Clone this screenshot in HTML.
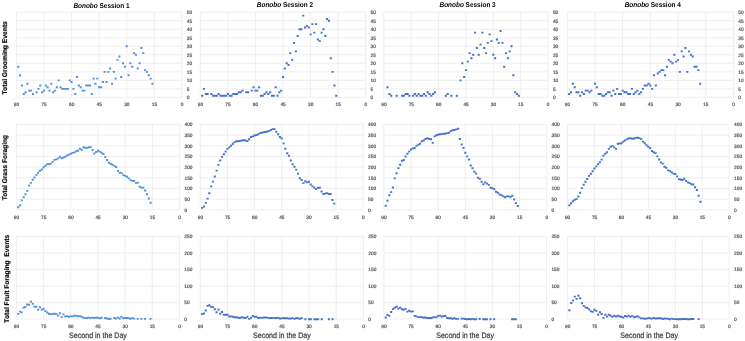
<!DOCTYPE html>
<html><head><meta charset="utf-8"><style>
html,body{margin:0;padding:0;background:#fff;}
svg{display:block;font-family:"Liberation Sans", sans-serif;will-change:transform;text-rendering:geometricPrecision;}
</style></head><body>
<svg width="745" height="341" viewBox="0 0 745 341">
<rect width="745" height="341" fill="#fff"/>
<g stroke="#ededed" stroke-width="0.9"><line x1="16.4" y1="97.4" x2="181.9" y2="97.4"/><line x1="16.4" y1="88.88" x2="181.9" y2="88.88"/><line x1="16.4" y1="80.36" x2="181.9" y2="80.36"/><line x1="16.4" y1="71.84" x2="181.9" y2="71.84"/><line x1="16.4" y1="63.32" x2="181.9" y2="63.32"/><line x1="16.4" y1="54.8" x2="181.9" y2="54.8"/><line x1="16.4" y1="46.28" x2="181.9" y2="46.28"/><line x1="16.4" y1="37.76" x2="181.9" y2="37.76"/><line x1="16.4" y1="29.24" x2="181.9" y2="29.24"/><line x1="16.4" y1="20.72" x2="181.9" y2="20.72"/><line x1="16.4" y1="12.2" x2="181.9" y2="12.2"/><line x1="16.4" y1="12.2" x2="16.4" y2="97.4"/><line x1="43.98" y1="12.2" x2="43.98" y2="97.4"/><line x1="71.57" y1="12.2" x2="71.57" y2="97.4"/><line x1="99.15" y1="12.2" x2="99.15" y2="97.4"/><line x1="126.73" y1="12.2" x2="126.73" y2="97.4"/><line x1="154.32" y1="12.2" x2="154.32" y2="97.4"/><line x1="181.9" y1="12.2" x2="181.9" y2="97.4"/></g>
<g font-size="4.8" fill="#505050" stroke="#505050" stroke-width="0.18"><text x="186.8" y="99.2">0</text><text x="186.8" y="90.68">5</text><text x="186.8" y="82.16">10</text><text x="186.8" y="73.64">15</text><text x="186.8" y="65.12">20</text><text x="186.8" y="56.6">25</text><text x="186.8" y="48.08">30</text><text x="186.8" y="39.56">35</text><text x="186.8" y="31.04">40</text><text x="186.8" y="22.52">45</text><text x="186.8" y="14">50</text><text x="16.5" y="106.3" text-anchor="middle">90</text><text x="44.08" y="106.3" text-anchor="middle">75</text><text x="71.67" y="106.3" text-anchor="middle">60</text><text x="99.25" y="106.3" text-anchor="middle">45</text><text x="126.83" y="106.3" text-anchor="middle">30</text><text x="154.42" y="106.3" text-anchor="middle">15</text><text x="182" y="106.3" text-anchor="middle">0</text></g>
<path fill="#5394d8" d="M17.19 65.78h2.1v1.9h-2.1zM19.03 74.3h2.1v1.9h-2.1zM20.87 84.52h2.1v1.9h-2.1zM22.71 93.04h2.1v1.9h-2.1zM24.54 91.34h2.1v1.9h-2.1zM26.38 82.82h2.1v1.9h-2.1zM28.22 89.63h2.1v1.9h-2.1zM30.06 89.63h2.1v1.9h-2.1zM31.9 93.04h2.1v1.9h-2.1zM35.58 91.34h2.1v1.9h-2.1zM37.42 87.93h2.1v1.9h-2.1zM39.26 84.52h2.1v1.9h-2.1zM41.09 91.34h2.1v1.9h-2.1zM42.93 89.63h2.1v1.9h-2.1zM44.77 84.52h2.1v1.9h-2.1zM46.61 86.23h2.1v1.9h-2.1zM48.45 89.63h2.1v1.9h-2.1zM50.29 82.82h2.1v1.9h-2.1zM52.13 91.34h2.1v1.9h-2.1zM53.97 89.63h2.1v1.9h-2.1zM55.81 86.23h2.1v1.9h-2.1zM57.64 79.41h2.1v1.9h-2.1zM59.48 86.23h2.1v1.9h-2.1zM61.32 87.93h2.1v1.9h-2.1zM63.16 87.93h2.1v1.9h-2.1zM65 87.93h2.1v1.9h-2.1zM66.84 87.93h2.1v1.9h-2.1zM68.68 79.41h2.1v1.9h-2.1zM70.52 81.11h2.1v1.9h-2.1zM72.36 87.93h2.1v1.9h-2.1zM74.19 93.04h2.1v1.9h-2.1zM76.03 76h2.1v1.9h-2.1zM77.87 84.52h2.1v1.9h-2.1zM79.71 86.23h2.1v1.9h-2.1zM81.55 89.63h2.1v1.9h-2.1zM83.39 89.63h2.1v1.9h-2.1zM85.23 84.52h2.1v1.9h-2.1zM87.07 84.52h2.1v1.9h-2.1zM88.91 84.52h2.1v1.9h-2.1zM90.74 93.04h2.1v1.9h-2.1zM92.58 77.71h2.1v1.9h-2.1zM94.42 82.82h2.1v1.9h-2.1zM96.26 77.71h2.1v1.9h-2.1zM98.1 86.23h2.1v1.9h-2.1zM99.94 86.23h2.1v1.9h-2.1zM101.78 81.11h2.1v1.9h-2.1zM103.62 70.89h2.1v1.9h-2.1zM105.46 81.11h2.1v1.9h-2.1zM107.29 70.89h2.1v1.9h-2.1zM109.13 67.48h2.1v1.9h-2.1zM110.97 82.82h2.1v1.9h-2.1zM112.81 70.89h2.1v1.9h-2.1zM114.65 77.71h2.1v1.9h-2.1zM116.49 58.96h2.1v1.9h-2.1zM118.33 55.55h2.1v1.9h-2.1zM120.17 76h2.1v1.9h-2.1zM122.01 62.37h2.1v1.9h-2.1zM123.84 65.78h2.1v1.9h-2.1zM125.68 45.33h2.1v1.9h-2.1zM127.52 74.3h2.1v1.9h-2.1zM129.36 62.37h2.1v1.9h-2.1zM131.2 65.78h2.1v1.9h-2.1zM133.04 52.15h2.1v1.9h-2.1zM134.88 53.85h2.1v1.9h-2.1zM136.72 67.48h2.1v1.9h-2.1zM138.56 62.37h2.1v1.9h-2.1zM140.39 47.03h2.1v1.9h-2.1zM142.23 52.15h2.1v1.9h-2.1zM144.07 69.19h2.1v1.9h-2.1zM145.91 70.89h2.1v1.9h-2.1zM147.75 74.3h2.1v1.9h-2.1zM149.59 77.71h2.1v1.9h-2.1zM151.43 82.82h2.1v1.9h-2.1z"/>
<g stroke="#ededed" stroke-width="0.9"><line x1="200.3" y1="97.4" x2="365.7" y2="97.4"/><line x1="200.3" y1="88.88" x2="365.7" y2="88.88"/><line x1="200.3" y1="80.36" x2="365.7" y2="80.36"/><line x1="200.3" y1="71.84" x2="365.7" y2="71.84"/><line x1="200.3" y1="63.32" x2="365.7" y2="63.32"/><line x1="200.3" y1="54.8" x2="365.7" y2="54.8"/><line x1="200.3" y1="46.28" x2="365.7" y2="46.28"/><line x1="200.3" y1="37.76" x2="365.7" y2="37.76"/><line x1="200.3" y1="29.24" x2="365.7" y2="29.24"/><line x1="200.3" y1="20.72" x2="365.7" y2="20.72"/><line x1="200.3" y1="12.2" x2="365.7" y2="12.2"/><line x1="200.3" y1="12.2" x2="200.3" y2="97.4"/><line x1="227.87" y1="12.2" x2="227.87" y2="97.4"/><line x1="255.43" y1="12.2" x2="255.43" y2="97.4"/><line x1="283" y1="12.2" x2="283" y2="97.4"/><line x1="310.57" y1="12.2" x2="310.57" y2="97.4"/><line x1="338.13" y1="12.2" x2="338.13" y2="97.4"/><line x1="365.7" y1="12.2" x2="365.7" y2="97.4"/></g>
<g font-size="4.8" fill="#505050" stroke="#505050" stroke-width="0.18"><text x="370.6" y="99.2">0</text><text x="370.6" y="90.68">5</text><text x="370.6" y="82.16">10</text><text x="370.6" y="73.64">15</text><text x="370.6" y="65.12">20</text><text x="370.6" y="56.6">25</text><text x="370.6" y="48.08">30</text><text x="370.6" y="39.56">35</text><text x="370.6" y="31.04">40</text><text x="370.6" y="22.52">45</text><text x="370.6" y="14">50</text><text x="200.4" y="106.3" text-anchor="middle">90</text><text x="227.97" y="106.3" text-anchor="middle">75</text><text x="255.53" y="106.3" text-anchor="middle">60</text><text x="283.1" y="106.3" text-anchor="middle">45</text><text x="310.67" y="106.3" text-anchor="middle">30</text><text x="338.23" y="106.3" text-anchor="middle">15</text><text x="365.8" y="106.3" text-anchor="middle">0</text></g>
<path fill="#4873cb" d="M201.09 94.75h2.1v1.9h-2.1zM202.93 87.93h2.1v1.9h-2.1zM204.76 93.04h2.1v1.9h-2.1zM206.6 93.04h2.1v1.9h-2.1zM210.28 93.04h2.1v1.9h-2.1zM212.11 94.75h2.1v1.9h-2.1zM213.95 94.75h2.1v1.9h-2.1zM215.79 94.75h2.1v1.9h-2.1zM217.63 93.04h2.1v1.9h-2.1zM219.47 94.75h2.1v1.9h-2.1zM221.3 94.75h2.1v1.9h-2.1zM223.14 94.75h2.1v1.9h-2.1zM224.98 94.75h2.1v1.9h-2.1zM226.82 93.04h2.1v1.9h-2.1zM228.65 94.75h2.1v1.9h-2.1zM230.49 94.75h2.1v1.9h-2.1zM232.33 93.04h2.1v1.9h-2.1zM234.17 93.04h2.1v1.9h-2.1zM236.01 93.04h2.1v1.9h-2.1zM237.84 91.34h2.1v1.9h-2.1zM239.68 91.34h2.1v1.9h-2.1zM241.52 89.63h2.1v1.9h-2.1zM245.19 91.34h2.1v1.9h-2.1zM247.03 91.34h2.1v1.9h-2.1zM250.71 89.63h2.1v1.9h-2.1zM252.55 86.23h2.1v1.9h-2.1zM254.38 89.63h2.1v1.9h-2.1zM256.22 89.63h2.1v1.9h-2.1zM258.06 86.23h2.1v1.9h-2.1zM259.9 94.75h2.1v1.9h-2.1zM261.73 94.75h2.1v1.9h-2.1zM263.57 93.04h2.1v1.9h-2.1zM265.41 91.34h2.1v1.9h-2.1zM267.25 93.04h2.1v1.9h-2.1zM269.09 91.34h2.1v1.9h-2.1zM270.92 94.75h2.1v1.9h-2.1zM272.76 94.75h2.1v1.9h-2.1zM274.6 86.23h2.1v1.9h-2.1zM276.44 94.75h2.1v1.9h-2.1zM278.27 91.34h2.1v1.9h-2.1zM280.11 89.63h2.1v1.9h-2.1zM281.95 76h2.1v1.9h-2.1zM283.79 67.48h2.1v1.9h-2.1zM285.63 62.37h2.1v1.9h-2.1zM287.46 64.07h2.1v1.9h-2.1zM289.3 52.15h2.1v1.9h-2.1zM291.14 58.96h2.1v1.9h-2.1zM292.98 41.92h2.1v1.9h-2.1zM294.81 50.44h2.1v1.9h-2.1zM296.65 35.11h2.1v1.9h-2.1zM298.49 28.29h2.1v1.9h-2.1zM300.33 28.29h2.1v1.9h-2.1zM302.17 14.66h2.1v1.9h-2.1zM304 26.59h2.1v1.9h-2.1zM305.84 24.88h2.1v1.9h-2.1zM307.68 26.59h2.1v1.9h-2.1zM309.52 33.4h2.1v1.9h-2.1zM311.35 23.18h2.1v1.9h-2.1zM313.19 31.7h2.1v1.9h-2.1zM315.03 23.18h2.1v1.9h-2.1zM316.87 38.51h2.1v1.9h-2.1zM318.71 40.22h2.1v1.9h-2.1zM320.54 31.7h2.1v1.9h-2.1zM322.38 28.29h2.1v1.9h-2.1zM324.22 35.11h2.1v1.9h-2.1zM326.06 18.07h2.1v1.9h-2.1zM327.89 19.77h2.1v1.9h-2.1zM329.73 57.26h2.1v1.9h-2.1zM331.57 70.89h2.1v1.9h-2.1zM333.41 84.52h2.1v1.9h-2.1zM335.25 94.75h2.1v1.9h-2.1z"/>
<g stroke="#ededed" stroke-width="0.9"><line x1="383.9" y1="97.4" x2="548" y2="97.4"/><line x1="383.9" y1="88.88" x2="548" y2="88.88"/><line x1="383.9" y1="80.36" x2="548" y2="80.36"/><line x1="383.9" y1="71.84" x2="548" y2="71.84"/><line x1="383.9" y1="63.32" x2="548" y2="63.32"/><line x1="383.9" y1="54.8" x2="548" y2="54.8"/><line x1="383.9" y1="46.28" x2="548" y2="46.28"/><line x1="383.9" y1="37.76" x2="548" y2="37.76"/><line x1="383.9" y1="29.24" x2="548" y2="29.24"/><line x1="383.9" y1="20.72" x2="548" y2="20.72"/><line x1="383.9" y1="12.2" x2="548" y2="12.2"/><line x1="383.9" y1="12.2" x2="383.9" y2="97.4"/><line x1="411.25" y1="12.2" x2="411.25" y2="97.4"/><line x1="438.6" y1="12.2" x2="438.6" y2="97.4"/><line x1="465.95" y1="12.2" x2="465.95" y2="97.4"/><line x1="493.3" y1="12.2" x2="493.3" y2="97.4"/><line x1="520.65" y1="12.2" x2="520.65" y2="97.4"/><line x1="548" y1="12.2" x2="548" y2="97.4"/></g>
<g font-size="4.8" fill="#505050" stroke="#505050" stroke-width="0.18"><text x="552.9" y="99.2">0</text><text x="552.9" y="90.68">5</text><text x="552.9" y="82.16">10</text><text x="552.9" y="73.64">15</text><text x="552.9" y="65.12">20</text><text x="552.9" y="56.6">25</text><text x="552.9" y="48.08">30</text><text x="552.9" y="39.56">35</text><text x="552.9" y="31.04">40</text><text x="552.9" y="22.52">45</text><text x="552.9" y="14">50</text><text x="384" y="106.3" text-anchor="middle">90</text><text x="411.35" y="106.3" text-anchor="middle">75</text><text x="438.7" y="106.3" text-anchor="middle">60</text><text x="466.05" y="106.3" text-anchor="middle">45</text><text x="493.4" y="106.3" text-anchor="middle">30</text><text x="520.75" y="106.3" text-anchor="middle">15</text><text x="548.1" y="106.3" text-anchor="middle">0</text></g>
<path fill="#4873cb" d="M386.5 86.23h2.1v1.9h-2.1zM388.32 93.04h2.1v1.9h-2.1zM390.14 94.75h2.1v1.9h-2.1zM395.61 94.75h2.1v1.9h-2.1zM401.08 94.75h2.1v1.9h-2.1zM402.91 94.75h2.1v1.9h-2.1zM404.73 93.04h2.1v1.9h-2.1zM406.55 93.04h2.1v1.9h-2.1zM408.38 94.75h2.1v1.9h-2.1zM412.02 94.75h2.1v1.9h-2.1zM413.85 93.04h2.1v1.9h-2.1zM415.67 94.75h2.1v1.9h-2.1zM417.49 93.04h2.1v1.9h-2.1zM419.32 94.75h2.1v1.9h-2.1zM421.14 94.75h2.1v1.9h-2.1zM422.96 93.04h2.1v1.9h-2.1zM424.79 94.75h2.1v1.9h-2.1zM426.61 91.34h2.1v1.9h-2.1zM428.43 93.04h2.1v1.9h-2.1zM430.26 94.75h2.1v1.9h-2.1zM432.08 93.04h2.1v1.9h-2.1zM433.9 91.34h2.1v1.9h-2.1zM444.84 94.75h2.1v1.9h-2.1zM446.67 93.04h2.1v1.9h-2.1zM450.31 94.75h2.1v1.9h-2.1zM455.78 94.75h2.1v1.9h-2.1zM459.43 79.41h2.1v1.9h-2.1zM461.25 62.37h2.1v1.9h-2.1zM463.08 76h2.1v1.9h-2.1zM464.9 69.19h2.1v1.9h-2.1zM466.72 60.67h2.1v1.9h-2.1zM468.55 52.15h2.1v1.9h-2.1zM470.37 57.26h2.1v1.9h-2.1zM472.19 53.85h2.1v1.9h-2.1zM474.02 31.7h2.1v1.9h-2.1zM475.84 47.03h2.1v1.9h-2.1zM477.66 53.85h2.1v1.9h-2.1zM479.49 43.63h2.1v1.9h-2.1zM481.31 31.7h2.1v1.9h-2.1zM483.13 47.03h2.1v1.9h-2.1zM484.96 52.15h2.1v1.9h-2.1zM486.78 41.92h2.1v1.9h-2.1zM488.6 33.4h2.1v1.9h-2.1zM490.43 40.22h2.1v1.9h-2.1zM492.25 53.85h2.1v1.9h-2.1zM494.07 57.26h2.1v1.9h-2.1zM495.9 38.51h2.1v1.9h-2.1zM497.72 41.92h2.1v1.9h-2.1zM499.54 29.99h2.1v1.9h-2.1zM501.37 41.92h2.1v1.9h-2.1zM503.19 65.78h2.1v1.9h-2.1zM505.01 52.15h2.1v1.9h-2.1zM506.84 57.26h2.1v1.9h-2.1zM508.66 50.44h2.1v1.9h-2.1zM510.48 45.33h2.1v1.9h-2.1zM512.31 74.3h2.1v1.9h-2.1zM514.13 91.34h2.1v1.9h-2.1zM515.95 93.04h2.1v1.9h-2.1zM517.78 94.75h2.1v1.9h-2.1z"/>
<g stroke="#ededed" stroke-width="0.9"><line x1="567.3" y1="97.4" x2="733.4" y2="97.4"/><line x1="567.3" y1="88.88" x2="733.4" y2="88.88"/><line x1="567.3" y1="80.36" x2="733.4" y2="80.36"/><line x1="567.3" y1="71.84" x2="733.4" y2="71.84"/><line x1="567.3" y1="63.32" x2="733.4" y2="63.32"/><line x1="567.3" y1="54.8" x2="733.4" y2="54.8"/><line x1="567.3" y1="46.28" x2="733.4" y2="46.28"/><line x1="567.3" y1="37.76" x2="733.4" y2="37.76"/><line x1="567.3" y1="29.24" x2="733.4" y2="29.24"/><line x1="567.3" y1="20.72" x2="733.4" y2="20.72"/><line x1="567.3" y1="12.2" x2="733.4" y2="12.2"/><line x1="567.3" y1="12.2" x2="567.3" y2="97.4"/><line x1="594.98" y1="12.2" x2="594.98" y2="97.4"/><line x1="622.67" y1="12.2" x2="622.67" y2="97.4"/><line x1="650.35" y1="12.2" x2="650.35" y2="97.4"/><line x1="678.03" y1="12.2" x2="678.03" y2="97.4"/><line x1="705.72" y1="12.2" x2="705.72" y2="97.4"/><line x1="733.4" y1="12.2" x2="733.4" y2="97.4"/></g>
<g font-size="4.8" fill="#505050" stroke="#505050" stroke-width="0.18"><text x="738.3" y="99.2">0</text><text x="738.3" y="90.68">5</text><text x="738.3" y="82.16">10</text><text x="738.3" y="73.64">15</text><text x="738.3" y="65.12">20</text><text x="738.3" y="56.6">25</text><text x="738.3" y="48.08">30</text><text x="738.3" y="39.56">35</text><text x="738.3" y="31.04">40</text><text x="738.3" y="22.52">45</text><text x="738.3" y="14">50</text><text x="567.4" y="106.3" text-anchor="middle">90</text><text x="595.08" y="106.3" text-anchor="middle">75</text><text x="622.77" y="106.3" text-anchor="middle">60</text><text x="650.45" y="106.3" text-anchor="middle">45</text><text x="678.13" y="106.3" text-anchor="middle">30</text><text x="705.82" y="106.3" text-anchor="middle">15</text><text x="733.5" y="106.3" text-anchor="middle">0</text></g>
<path fill="#4873cb" d="M568.1 93.04h2.1v1.9h-2.1zM569.94 91.34h2.1v1.9h-2.1zM571.79 82.82h2.1v1.9h-2.1zM573.63 86.23h2.1v1.9h-2.1zM575.48 91.34h2.1v1.9h-2.1zM577.32 91.34h2.1v1.9h-2.1zM579.17 94.75h2.1v1.9h-2.1zM581.01 91.34h2.1v1.9h-2.1zM582.86 93.04h2.1v1.9h-2.1zM584.71 89.63h2.1v1.9h-2.1zM586.55 89.63h2.1v1.9h-2.1zM588.4 91.34h2.1v1.9h-2.1zM590.24 89.63h2.1v1.9h-2.1zM593.93 82.82h2.1v1.9h-2.1zM595.78 86.23h2.1v1.9h-2.1zM597.62 93.04h2.1v1.9h-2.1zM599.47 93.04h2.1v1.9h-2.1zM601.32 94.75h2.1v1.9h-2.1zM603.16 94.75h2.1v1.9h-2.1zM605.01 93.04h2.1v1.9h-2.1zM606.85 91.34h2.1v1.9h-2.1zM608.7 91.34h2.1v1.9h-2.1zM610.54 94.75h2.1v1.9h-2.1zM612.39 89.63h2.1v1.9h-2.1zM614.23 93.04h2.1v1.9h-2.1zM616.08 87.93h2.1v1.9h-2.1zM617.93 93.04h2.1v1.9h-2.1zM619.77 93.04h2.1v1.9h-2.1zM621.62 89.63h2.1v1.9h-2.1zM623.46 91.34h2.1v1.9h-2.1zM625.31 91.34h2.1v1.9h-2.1zM627.15 93.04h2.1v1.9h-2.1zM629 93.04h2.1v1.9h-2.1zM630.84 87.93h2.1v1.9h-2.1zM632.69 93.04h2.1v1.9h-2.1zM634.54 91.34h2.1v1.9h-2.1zM636.38 89.63h2.1v1.9h-2.1zM638.23 93.04h2.1v1.9h-2.1zM640.07 91.34h2.1v1.9h-2.1zM641.92 87.93h2.1v1.9h-2.1zM643.76 84.52h2.1v1.9h-2.1zM645.61 84.52h2.1v1.9h-2.1zM647.45 82.82h2.1v1.9h-2.1zM649.3 84.52h2.1v1.9h-2.1zM651.15 87.93h2.1v1.9h-2.1zM652.99 74.3h2.1v1.9h-2.1zM654.84 84.52h2.1v1.9h-2.1zM656.68 72.59h2.1v1.9h-2.1zM658.53 70.89h2.1v1.9h-2.1zM660.37 69.19h2.1v1.9h-2.1zM662.22 69.19h2.1v1.9h-2.1zM664.06 74.3h2.1v1.9h-2.1zM665.91 65.78h2.1v1.9h-2.1zM667.76 58.96h2.1v1.9h-2.1zM669.6 60.67h2.1v1.9h-2.1zM671.45 62.37h2.1v1.9h-2.1zM673.29 53.85h2.1v1.9h-2.1zM675.14 60.67h2.1v1.9h-2.1zM676.98 58.96h2.1v1.9h-2.1zM678.83 70.89h2.1v1.9h-2.1zM680.67 50.44h2.1v1.9h-2.1zM682.52 55.55h2.1v1.9h-2.1zM684.37 47.03h2.1v1.9h-2.1zM686.21 70.89h2.1v1.9h-2.1zM688.06 50.44h2.1v1.9h-2.1zM689.9 53.85h2.1v1.9h-2.1zM691.75 55.55h2.1v1.9h-2.1zM693.59 65.78h2.1v1.9h-2.1zM695.44 65.78h2.1v1.9h-2.1zM697.28 69.19h2.1v1.9h-2.1zM699.13 82.82h2.1v1.9h-2.1z"/>
<g stroke="#ededed" stroke-width="0.9"><line x1="16.4" y1="209.9" x2="179.6" y2="209.9"/><line x1="16.4" y1="199.21" x2="179.6" y2="199.21"/><line x1="16.4" y1="188.53" x2="179.6" y2="188.53"/><line x1="16.4" y1="177.84" x2="179.6" y2="177.84"/><line x1="16.4" y1="167.15" x2="179.6" y2="167.15"/><line x1="16.4" y1="156.46" x2="179.6" y2="156.46"/><line x1="16.4" y1="145.78" x2="179.6" y2="145.78"/><line x1="16.4" y1="135.09" x2="179.6" y2="135.09"/><line x1="16.4" y1="124.4" x2="179.6" y2="124.4"/><line x1="16.4" y1="124.4" x2="16.4" y2="209.9"/><line x1="43.6" y1="124.4" x2="43.6" y2="209.9"/><line x1="70.8" y1="124.4" x2="70.8" y2="209.9"/><line x1="98" y1="124.4" x2="98" y2="209.9"/><line x1="125.2" y1="124.4" x2="125.2" y2="209.9"/><line x1="152.4" y1="124.4" x2="152.4" y2="209.9"/><line x1="179.6" y1="124.4" x2="179.6" y2="209.9"/></g>
<g font-size="4.8" fill="#505050" stroke="#505050" stroke-width="0.18"><text x="184.5" y="211.7">0</text><text x="184.5" y="201.01">50</text><text x="184.5" y="190.33">100</text><text x="184.5" y="179.64">150</text><text x="184.5" y="168.95">200</text><text x="184.5" y="158.26">250</text><text x="184.5" y="147.58">300</text><text x="184.5" y="136.89">350</text><text x="184.5" y="126.2">400</text><text x="16.5" y="218.95" text-anchor="middle">90</text><text x="43.7" y="218.95" text-anchor="middle">75</text><text x="70.9" y="218.95" text-anchor="middle">60</text><text x="98.1" y="218.95" text-anchor="middle">45</text><text x="125.3" y="218.95" text-anchor="middle">30</text><text x="152.5" y="218.95" text-anchor="middle">15</text><text x="179.7" y="218.95" text-anchor="middle">0</text></g>
<path fill="#5394d8" d="M17.16 206.35h2.1v1.9h-2.1zM18.98 204.35h2.1v1.9h-2.1zM20.79 199.45h2.1v1.9h-2.1zM22.6 196.35h2.1v1.9h-2.1zM24.42 193.35h2.1v1.9h-2.1zM26.23 189.95h2.1v1.9h-2.1zM28.04 184.65h2.1v1.9h-2.1zM29.86 181.95h2.1v1.9h-2.1zM31.67 178.85h2.1v1.9h-2.1zM33.48 176.55h2.1v1.9h-2.1zM35.3 173.95h2.1v1.9h-2.1zM37.11 171.75h2.1v1.9h-2.1zM38.92 169.75h2.1v1.9h-2.1zM40.74 168.55h2.1v1.9h-2.1zM42.55 166.35h2.1v1.9h-2.1zM44.36 164.85h2.1v1.9h-2.1zM46.18 163.35h2.1v1.9h-2.1zM47.99 163.35h2.1v1.9h-2.1zM49.8 162.65h2.1v1.9h-2.1zM51.62 160.9h2.1v1.9h-2.1zM53.43 158.95h2.1v1.9h-2.1zM55.24 158.45h2.1v1.9h-2.1zM57.06 157.45h2.1v1.9h-2.1zM58.87 155.75h2.1v1.9h-2.1zM60.68 157.25h2.1v1.9h-2.1zM62.5 156.55h2.1v1.9h-2.1zM64.31 155.85h2.1v1.9h-2.1zM66.12 154.55h2.1v1.9h-2.1zM67.94 153.7h2.1v1.9h-2.1zM69.75 152.85h2.1v1.9h-2.1zM71.56 151.95h2.1v1.9h-2.1zM73.38 151.45h2.1v1.9h-2.1zM75.19 150.25h2.1v1.9h-2.1zM77 149.85h2.1v1.9h-2.1zM78.82 147.85h2.1v1.9h-2.1zM80.63 148.75h2.1v1.9h-2.1zM82.44 146.35h2.1v1.9h-2.1zM84.26 146.75h2.1v1.9h-2.1zM86.07 146.95h2.1v1.9h-2.1zM87.88 146.35h2.1v1.9h-2.1zM89.7 146.15h2.1v1.9h-2.1zM91.51 149.05h2.1v1.9h-2.1zM93.32 152.55h2.1v1.9h-2.1zM95.14 151.05h2.1v1.9h-2.1zM96.95 149.85h2.1v1.9h-2.1zM98.76 150.65h2.1v1.9h-2.1zM100.58 151.85h2.1v1.9h-2.1zM102.39 153.05h2.1v1.9h-2.1zM104.2 155.9h2.1v1.9h-2.1zM106.02 159.05h2.1v1.9h-2.1zM107.83 161.55h2.1v1.9h-2.1zM109.64 162.75h2.1v1.9h-2.1zM111.46 163.75h2.1v1.9h-2.1zM113.27 164.95h2.1v1.9h-2.1zM115.08 166.05h2.1v1.9h-2.1zM116.9 169.95h2.1v1.9h-2.1zM118.71 171.65h2.1v1.9h-2.1zM120.52 172.15h2.1v1.9h-2.1zM122.34 174.15h2.1v1.9h-2.1zM124.15 174.95h2.1v1.9h-2.1zM125.96 175.75h2.1v1.9h-2.1zM127.78 177.45h2.1v1.9h-2.1zM129.59 179.15h2.1v1.9h-2.1zM131.4 179.95h2.1v1.9h-2.1zM133.22 179.95h2.1v1.9h-2.1zM135.03 182.15h2.1v1.9h-2.1zM136.84 181.65h2.1v1.9h-2.1zM138.66 185.85h2.1v1.9h-2.1zM140.47 186.65h2.1v1.9h-2.1zM142.28 186.65h2.1v1.9h-2.1zM144.1 189.55h2.1v1.9h-2.1zM145.91 193.35h2.1v1.9h-2.1zM147.72 197.55h2.1v1.9h-2.1zM149.54 201.75h2.1v1.9h-2.1z"/>
<g stroke="#ededed" stroke-width="0.9"><line x1="200.3" y1="209.9" x2="363.2" y2="209.9"/><line x1="200.3" y1="199.21" x2="363.2" y2="199.21"/><line x1="200.3" y1="188.53" x2="363.2" y2="188.53"/><line x1="200.3" y1="177.84" x2="363.2" y2="177.84"/><line x1="200.3" y1="167.15" x2="363.2" y2="167.15"/><line x1="200.3" y1="156.46" x2="363.2" y2="156.46"/><line x1="200.3" y1="145.78" x2="363.2" y2="145.78"/><line x1="200.3" y1="135.09" x2="363.2" y2="135.09"/><line x1="200.3" y1="124.4" x2="363.2" y2="124.4"/><line x1="200.3" y1="124.4" x2="200.3" y2="209.9"/><line x1="227.45" y1="124.4" x2="227.45" y2="209.9"/><line x1="254.6" y1="124.4" x2="254.6" y2="209.9"/><line x1="281.75" y1="124.4" x2="281.75" y2="209.9"/><line x1="308.9" y1="124.4" x2="308.9" y2="209.9"/><line x1="336.05" y1="124.4" x2="336.05" y2="209.9"/><line x1="363.2" y1="124.4" x2="363.2" y2="209.9"/></g>
<g font-size="4.8" fill="#505050" stroke="#505050" stroke-width="0.18"><text x="368.1" y="211.7">0</text><text x="368.1" y="201.01">50</text><text x="368.1" y="190.33">100</text><text x="368.1" y="179.64">150</text><text x="368.1" y="168.95">200</text><text x="368.1" y="158.26">250</text><text x="368.1" y="147.58">300</text><text x="368.1" y="136.89">350</text><text x="368.1" y="126.2">400</text><text x="200.4" y="218.95" text-anchor="middle">90</text><text x="227.55" y="218.95" text-anchor="middle">75</text><text x="254.7" y="218.95" text-anchor="middle">60</text><text x="281.85" y="218.95" text-anchor="middle">45</text><text x="309" y="218.95" text-anchor="middle">30</text><text x="336.15" y="218.95" text-anchor="middle">15</text><text x="363.3" y="218.95" text-anchor="middle">0</text></g>
<path fill="#4873cb" d="M201.06 206.95h2.1v1.9h-2.1zM202.87 205.55h2.1v1.9h-2.1zM204.68 201.95h2.1v1.9h-2.1zM206.49 197.65h2.1v1.9h-2.1zM208.3 192.25h2.1v1.9h-2.1zM210.11 185.45h2.1v1.9h-2.1zM211.92 180.65h2.1v1.9h-2.1zM213.73 175.55h2.1v1.9h-2.1zM215.54 169.65h2.1v1.9h-2.1zM217.35 163.95h2.1v1.9h-2.1zM219.16 159.55h2.1v1.9h-2.1zM220.97 155.95h2.1v1.9h-2.1zM222.78 153.35h2.1v1.9h-2.1zM224.59 150.65h2.1v1.9h-2.1zM226.4 147.95h2.1v1.9h-2.1zM228.21 146.45h2.1v1.9h-2.1zM230.02 144.75h2.1v1.9h-2.1zM231.83 142.85h2.1v1.9h-2.1zM233.64 141.15h2.1v1.9h-2.1zM235.45 140.35h2.1v1.9h-2.1zM237.26 140.35h2.1v1.9h-2.1zM239.07 139.95h2.1v1.9h-2.1zM240.88 139.55h2.1v1.9h-2.1zM242.69 139.25h2.1v1.9h-2.1zM244.5 139.55h2.1v1.9h-2.1zM246.31 140.15h2.1v1.9h-2.1zM248.12 138.35h2.1v1.9h-2.1zM249.93 136.05h2.1v1.9h-2.1zM251.74 135.45h2.1v1.9h-2.1zM253.55 134.55h2.1v1.9h-2.1zM255.36 134.05h2.1v1.9h-2.1zM257.17 133.35h2.1v1.9h-2.1zM258.98 132.15h2.1v1.9h-2.1zM260.79 131.75h2.1v1.9h-2.1zM262.6 131.35h2.1v1.9h-2.1zM264.41 131.05h2.1v1.9h-2.1zM266.22 130.55h2.1v1.9h-2.1zM268.03 130.15h2.1v1.9h-2.1zM269.84 129.05h2.1v1.9h-2.1zM271.65 128.15h2.1v1.9h-2.1zM273.46 128.15h2.1v1.9h-2.1zM275.27 130.75h2.1v1.9h-2.1zM277.08 133.35h2.1v1.9h-2.1zM278.89 136.05h2.1v1.9h-2.1zM280.7 137.55h2.1v1.9h-2.1zM282.51 142.45h2.1v1.9h-2.1zM284.32 147.75h2.1v1.9h-2.1zM286.13 152.35h2.1v1.9h-2.1zM287.94 154.85h2.1v1.9h-2.1zM289.75 159.55h2.1v1.9h-2.1zM291.56 163.25h2.1v1.9h-2.1zM293.37 165.75h2.1v1.9h-2.1zM295.18 168.65h2.1v1.9h-2.1zM296.99 172.65h2.1v1.9h-2.1zM298.8 177.25h2.1v1.9h-2.1zM300.61 179.05h2.1v1.9h-2.1zM302.42 182.15h2.1v1.9h-2.1zM304.23 180.35h2.1v1.9h-2.1zM306.04 181.45h2.1v1.9h-2.1zM307.85 180.85h2.1v1.9h-2.1zM309.66 183.55h2.1v1.9h-2.1zM311.47 185.45h2.1v1.9h-2.1zM313.28 186.85h2.1v1.9h-2.1zM315.09 188.15h2.1v1.9h-2.1zM316.9 186.85h2.1v1.9h-2.1zM318.71 186.85h2.1v1.9h-2.1zM320.52 190.55h2.1v1.9h-2.1zM322.33 193.05h2.1v1.9h-2.1zM324.14 192.65h2.1v1.9h-2.1zM325.95 192.15h2.1v1.9h-2.1zM327.76 193.05h2.1v1.9h-2.1zM329.57 193.05h2.1v1.9h-2.1zM331.38 199.05h2.1v1.9h-2.1zM333.19 202.65h2.1v1.9h-2.1z"/>
<g stroke="#ededed" stroke-width="0.9"><line x1="383.9" y1="209.9" x2="546.7" y2="209.9"/><line x1="383.9" y1="199.21" x2="546.7" y2="199.21"/><line x1="383.9" y1="188.53" x2="546.7" y2="188.53"/><line x1="383.9" y1="177.84" x2="546.7" y2="177.84"/><line x1="383.9" y1="167.15" x2="546.7" y2="167.15"/><line x1="383.9" y1="156.46" x2="546.7" y2="156.46"/><line x1="383.9" y1="145.78" x2="546.7" y2="145.78"/><line x1="383.9" y1="135.09" x2="546.7" y2="135.09"/><line x1="383.9" y1="124.4" x2="546.7" y2="124.4"/><line x1="383.9" y1="124.4" x2="383.9" y2="209.9"/><line x1="411.03" y1="124.4" x2="411.03" y2="209.9"/><line x1="438.17" y1="124.4" x2="438.17" y2="209.9"/><line x1="465.3" y1="124.4" x2="465.3" y2="209.9"/><line x1="492.43" y1="124.4" x2="492.43" y2="209.9"/><line x1="519.57" y1="124.4" x2="519.57" y2="209.9"/><line x1="546.7" y1="124.4" x2="546.7" y2="209.9"/></g>
<g font-size="4.8" fill="#505050" stroke="#505050" stroke-width="0.18"><text x="551.6" y="211.7">0</text><text x="551.6" y="201.01">50</text><text x="551.6" y="190.33">100</text><text x="551.6" y="179.64">150</text><text x="551.6" y="168.95">200</text><text x="551.6" y="158.26">250</text><text x="551.6" y="147.58">300</text><text x="551.6" y="136.89">350</text><text x="551.6" y="126.2">400</text><text x="384" y="218.95" text-anchor="middle">90</text><text x="411.13" y="218.95" text-anchor="middle">75</text><text x="438.27" y="218.95" text-anchor="middle">60</text><text x="465.4" y="218.95" text-anchor="middle">45</text><text x="492.53" y="218.95" text-anchor="middle">30</text><text x="519.67" y="218.95" text-anchor="middle">15</text><text x="546.8" y="218.95" text-anchor="middle">0</text></g>
<path fill="#4873cb" d="M384.66 204.85h2.1v1.9h-2.1zM386.47 199.85h2.1v1.9h-2.1zM388.28 194.35h2.1v1.9h-2.1zM390.09 191.15h2.1v1.9h-2.1zM391.89 186.55h2.1v1.9h-2.1zM393.7 177.45h2.1v1.9h-2.1zM395.51 172.35h2.1v1.9h-2.1zM397.32 167.15h2.1v1.9h-2.1zM399.13 163.75h2.1v1.9h-2.1zM400.94 159.75h2.1v1.9h-2.1zM402.75 159.05h2.1v1.9h-2.1zM404.56 155.55h2.1v1.9h-2.1zM406.37 152.75h2.1v1.9h-2.1zM408.17 150.65h2.1v1.9h-2.1zM409.98 148.55h2.1v1.9h-2.1zM411.79 147.45h2.1v1.9h-2.1zM413.6 147.05h2.1v1.9h-2.1zM415.41 144.95h2.1v1.9h-2.1zM417.22 143.65h2.1v1.9h-2.1zM419.03 142.85h2.1v1.9h-2.1zM420.84 140.35h2.1v1.9h-2.1zM422.65 139.55h2.1v1.9h-2.1zM424.45 138.05h2.1v1.9h-2.1zM426.26 137.25h2.1v1.9h-2.1zM428.07 138.05h2.1v1.9h-2.1zM429.88 138.35h2.1v1.9h-2.1zM431.69 141.95h2.1v1.9h-2.1zM433.5 135.45h2.1v1.9h-2.1zM435.31 134.25h2.1v1.9h-2.1zM437.12 133.75h2.1v1.9h-2.1zM438.93 133.35h2.1v1.9h-2.1zM440.73 133.15h2.1v1.9h-2.1zM442.54 132.85h2.1v1.9h-2.1zM444.35 132.85h2.1v1.9h-2.1zM446.16 132.15h2.1v1.9h-2.1zM447.97 131.75h2.1v1.9h-2.1zM449.78 130.15h2.1v1.9h-2.1zM451.59 129.35h2.1v1.9h-2.1zM453.4 129.05h2.1v1.9h-2.1zM455.21 128.45h2.1v1.9h-2.1zM457.01 127.85h2.1v1.9h-2.1zM458.82 138.05h2.1v1.9h-2.1zM460.63 143.45h2.1v1.9h-2.1zM462.44 146.95h2.1v1.9h-2.1zM464.25 151.75h2.1v1.9h-2.1zM466.06 155.45h2.1v1.9h-2.1zM467.87 158.55h2.1v1.9h-2.1zM469.68 164.55h2.1v1.9h-2.1zM471.49 167.25h2.1v1.9h-2.1zM473.29 170.85h2.1v1.9h-2.1zM475.1 172.65h2.1v1.9h-2.1zM476.91 176.65h2.1v1.9h-2.1zM478.72 177.75h2.1v1.9h-2.1zM480.53 180.85h2.1v1.9h-2.1zM482.34 183.25h2.1v1.9h-2.1zM484.15 181.45h2.1v1.9h-2.1zM485.96 182.65h2.1v1.9h-2.1zM487.77 183.95h2.1v1.9h-2.1zM489.57 186.85h2.1v1.9h-2.1zM491.38 187.25h2.1v1.9h-2.1zM493.19 188.15h2.1v1.9h-2.1zM495 190.85h2.1v1.9h-2.1zM496.81 191.75h2.1v1.9h-2.1zM498.62 193.55h2.1v1.9h-2.1zM500.43 194.15h2.1v1.9h-2.1zM502.24 195.45h2.1v1.9h-2.1zM504.05 196.35h2.1v1.9h-2.1zM505.85 195.45h2.1v1.9h-2.1zM507.66 195.45h2.1v1.9h-2.1zM509.47 195.95h2.1v1.9h-2.1zM511.28 194.85h2.1v1.9h-2.1zM513.09 198.55h2.1v1.9h-2.1zM514.9 202.15h2.1v1.9h-2.1zM516.71 205.05h2.1v1.9h-2.1z"/>
<g stroke="#ededed" stroke-width="0.9"><line x1="567.5" y1="209.9" x2="729.2" y2="209.9"/><line x1="567.5" y1="199.21" x2="729.2" y2="199.21"/><line x1="567.5" y1="188.53" x2="729.2" y2="188.53"/><line x1="567.5" y1="177.84" x2="729.2" y2="177.84"/><line x1="567.5" y1="167.15" x2="729.2" y2="167.15"/><line x1="567.5" y1="156.46" x2="729.2" y2="156.46"/><line x1="567.5" y1="145.78" x2="729.2" y2="145.78"/><line x1="567.5" y1="135.09" x2="729.2" y2="135.09"/><line x1="567.5" y1="124.4" x2="729.2" y2="124.4"/><line x1="567.5" y1="124.4" x2="567.5" y2="209.9"/><line x1="594.45" y1="124.4" x2="594.45" y2="209.9"/><line x1="621.4" y1="124.4" x2="621.4" y2="209.9"/><line x1="648.35" y1="124.4" x2="648.35" y2="209.9"/><line x1="675.3" y1="124.4" x2="675.3" y2="209.9"/><line x1="702.25" y1="124.4" x2="702.25" y2="209.9"/><line x1="729.2" y1="124.4" x2="729.2" y2="209.9"/></g>
<g font-size="4.8" fill="#505050" stroke="#505050" stroke-width="0.18"><text x="734.1" y="211.7">0</text><text x="734.1" y="201.01">50</text><text x="734.1" y="190.33">100</text><text x="734.1" y="179.64">150</text><text x="734.1" y="168.95">200</text><text x="734.1" y="158.26">250</text><text x="734.1" y="147.58">300</text><text x="734.1" y="136.89">350</text><text x="734.1" y="126.2">400</text><text x="567.6" y="218.95" text-anchor="middle">90</text><text x="594.55" y="218.95" text-anchor="middle">75</text><text x="621.5" y="218.95" text-anchor="middle">60</text><text x="648.45" y="218.95" text-anchor="middle">45</text><text x="675.4" y="218.95" text-anchor="middle">30</text><text x="702.35" y="218.95" text-anchor="middle">15</text><text x="729.3" y="218.95" text-anchor="middle">0</text></g>
<path fill="#4873cb" d="M568.25 204.45h2.1v1.9h-2.1zM570.04 202.35h2.1v1.9h-2.1zM571.84 200.25h2.1v1.9h-2.1zM573.64 198.75h2.1v1.9h-2.1zM575.43 198.15h2.1v1.9h-2.1zM577.23 195.55h2.1v1.9h-2.1zM579.03 191.75h2.1v1.9h-2.1zM580.82 187.15h2.1v1.9h-2.1zM582.62 183.75h2.1v1.9h-2.1zM584.42 180.85h2.1v1.9h-2.1zM586.21 178.05h2.1v1.9h-2.1zM588.01 174.95h2.1v1.9h-2.1zM589.81 172.85h2.1v1.9h-2.1zM591.6 170.25h2.1v1.9h-2.1zM593.4 167.55h2.1v1.9h-2.1zM595.2 165.45h2.1v1.9h-2.1zM596.99 163.35h2.1v1.9h-2.1zM598.79 161.25h2.1v1.9h-2.1zM600.59 158.65h2.1v1.9h-2.1zM602.38 154.85h2.1v1.9h-2.1zM604.18 152.75h2.1v1.9h-2.1zM605.98 151.25h2.1v1.9h-2.1zM607.77 147.95h2.1v1.9h-2.1zM609.57 145.85h2.1v1.9h-2.1zM611.37 144.95h2.1v1.9h-2.1zM613.16 146.45h2.1v1.9h-2.1zM614.96 147.95h2.1v1.9h-2.1zM616.76 142.85h2.1v1.9h-2.1zM618.55 142.65h2.1v1.9h-2.1zM620.35 142.25h2.1v1.9h-2.1zM622.15 140.65h2.1v1.9h-2.1zM623.94 139.55h2.1v1.9h-2.1zM625.74 138.45h2.1v1.9h-2.1zM627.54 137.55h2.1v1.9h-2.1zM629.33 137.15h2.1v1.9h-2.1zM631.13 137.85h2.1v1.9h-2.1zM632.93 137.55h2.1v1.9h-2.1zM634.72 136.95h2.1v1.9h-2.1zM636.52 136.75h2.1v1.9h-2.1zM638.32 137.15h2.1v1.9h-2.1zM640.11 138.15h2.1v1.9h-2.1zM641.91 140.65h2.1v1.9h-2.1zM643.71 142.25h2.1v1.9h-2.1zM645.5 144.25h2.1v1.9h-2.1zM647.3 145.75h2.1v1.9h-2.1zM649.1 147.25h2.1v1.9h-2.1zM650.89 150.05h2.1v1.9h-2.1zM652.69 151.25h2.1v1.9h-2.1zM654.49 152.15h2.1v1.9h-2.1zM656.28 155.45h2.1v1.9h-2.1zM658.08 158.55h2.1v1.9h-2.1zM659.88 161.45h2.1v1.9h-2.1zM661.67 162.65h2.1v1.9h-2.1zM663.47 165.75h2.1v1.9h-2.1zM665.27 166.85h2.1v1.9h-2.1zM667.06 169.45h2.1v1.9h-2.1zM668.86 169.95h2.1v1.9h-2.1zM670.66 171.25h2.1v1.9h-2.1zM672.45 172.65h2.1v1.9h-2.1zM674.25 173.05h2.1v1.9h-2.1zM676.05 175.45h2.1v1.9h-2.1zM677.84 178.15h2.1v1.9h-2.1zM679.64 178.55h2.1v1.9h-2.1zM681.44 179.05h2.1v1.9h-2.1zM683.23 177.75h2.1v1.9h-2.1zM685.03 179.95h2.1v1.9h-2.1zM686.83 181.45h2.1v1.9h-2.1zM688.62 182.15h2.1v1.9h-2.1zM690.42 183.25h2.1v1.9h-2.1zM692.22 183.55h2.1v1.9h-2.1zM694.01 186.35h2.1v1.9h-2.1zM695.81 189.05h2.1v1.9h-2.1zM697.61 194.85h2.1v1.9h-2.1zM699.4 200.85h2.1v1.9h-2.1z"/>
<g stroke="#ededed" stroke-width="0.9"><line x1="16.4" y1="319.1" x2="179.4" y2="319.1"/><line x1="16.4" y1="302.6" x2="179.4" y2="302.6"/><line x1="16.4" y1="286.1" x2="179.4" y2="286.1"/><line x1="16.4" y1="269.6" x2="179.4" y2="269.6"/><line x1="16.4" y1="253.1" x2="179.4" y2="253.1"/><line x1="16.4" y1="236.6" x2="179.4" y2="236.6"/><line x1="16.4" y1="236.6" x2="16.4" y2="319.1"/><line x1="43.57" y1="236.6" x2="43.57" y2="319.1"/><line x1="70.73" y1="236.6" x2="70.73" y2="319.1"/><line x1="97.9" y1="236.6" x2="97.9" y2="319.1"/><line x1="125.07" y1="236.6" x2="125.07" y2="319.1"/><line x1="152.23" y1="236.6" x2="152.23" y2="319.1"/><line x1="179.4" y1="236.6" x2="179.4" y2="319.1"/></g>
<g font-size="4.8" fill="#505050" stroke="#505050" stroke-width="0.18"><text x="184.3" y="320.9">0</text><text x="184.3" y="304.4">50</text><text x="184.3" y="287.9">100</text><text x="184.3" y="271.4">150</text><text x="184.3" y="254.9">200</text><text x="184.3" y="238.4">250</text><text x="16.5" y="328.15" text-anchor="middle">90</text><text x="43.67" y="328.15" text-anchor="middle">75</text><text x="70.83" y="328.15" text-anchor="middle">60</text><text x="98" y="328.15" text-anchor="middle">45</text><text x="125.17" y="328.15" text-anchor="middle">30</text><text x="152.33" y="328.15" text-anchor="middle">15</text><text x="179.5" y="328.15" text-anchor="middle">0</text></g>
<path fill="#5394d8" d="M17.16 312.95h2.1v1.9h-2.1zM18.97 310.65h2.1v1.9h-2.1zM20.78 311.45h2.1v1.9h-2.1zM22.59 306.85h2.1v1.9h-2.1zM24.41 305.95h2.1v1.9h-2.1zM26.22 303.55h2.1v1.9h-2.1zM28.03 303.75h2.1v1.9h-2.1zM29.84 300.65h2.1v1.9h-2.1zM31.65 302.75h2.1v1.9h-2.1zM33.46 305.65h2.1v1.9h-2.1zM35.27 305.75h2.1v1.9h-2.1zM37.08 308.75h2.1v1.9h-2.1zM38.89 306.35h2.1v1.9h-2.1zM40.71 308.75h2.1v1.9h-2.1zM42.52 307.75h2.1v1.9h-2.1zM44.33 310.15h2.1v1.9h-2.1zM46.14 311.55h2.1v1.9h-2.1zM47.95 312.85h2.1v1.9h-2.1zM49.76 313.15h2.1v1.9h-2.1zM51.57 313.15h2.1v1.9h-2.1zM53.38 312.85h2.1v1.9h-2.1zM55.19 312.95h2.1v1.9h-2.1zM57.01 314.55h2.1v1.9h-2.1zM58.82 312.25h2.1v1.9h-2.1zM60.63 316.15h2.1v1.9h-2.1zM62.44 313.45h2.1v1.9h-2.1zM64.25 315.45h2.1v1.9h-2.1zM66.06 315.25h2.1v1.9h-2.1zM67.87 315.85h2.1v1.9h-2.1zM69.68 315.45h2.1v1.9h-2.1zM71.49 315.45h2.1v1.9h-2.1zM73.31 314.75h2.1v1.9h-2.1zM75.12 314.95h2.1v1.9h-2.1zM76.93 315.27h2.1v1.9h-2.1zM78.74 315.2h2.1v1.9h-2.1zM80.55 315.8h2.1v1.9h-2.1zM82.36 316.72h2.1v1.9h-2.1zM84.17 317.19h2.1v1.9h-2.1zM85.98 317.02h2.1v1.9h-2.1zM87.79 316.71h2.1v1.9h-2.1zM89.61 317.16h2.1v1.9h-2.1zM91.42 316.69h2.1v1.9h-2.1zM93.23 317.08h2.1v1.9h-2.1zM95.04 316.72h2.1v1.9h-2.1zM96.85 316.74h2.1v1.9h-2.1zM98.66 317.28h2.1v1.9h-2.1zM100.47 316.8h2.1v1.9h-2.1zM104.09 317.02h2.1v1.9h-2.1zM105.91 317.6h2.1v1.9h-2.1zM107.72 318.09h2.1v1.9h-2.1zM109.53 317.74h2.1v1.9h-2.1zM113.15 317.05h2.1v1.9h-2.1zM114.96 317.63h2.1v1.9h-2.1zM116.77 316.7h2.1v1.9h-2.1zM118.58 317.51h2.1v1.9h-2.1zM120.39 315.95h2.1v1.9h-2.1zM122.21 317.24h2.1v1.9h-2.1zM124.02 317.11h2.1v1.9h-2.1zM125.83 317.1h2.1v1.9h-2.1zM127.64 317.31h2.1v1.9h-2.1zM129.45 317.83h2.1v1.9h-2.1zM131.26 317.21h2.1v1.9h-2.1zM133.07 317.63h2.1v1.9h-2.1zM136.69 317.95h2.1v1.9h-2.1zM140.32 317.95h2.1v1.9h-2.1zM143.94 317.95h2.1v1.9h-2.1zM149.37 317.95h2.1v1.9h-2.1z"/>
<g stroke="#ededed" stroke-width="0.9"><line x1="200.3" y1="319.1" x2="363.4" y2="319.1"/><line x1="200.3" y1="302.6" x2="363.4" y2="302.6"/><line x1="200.3" y1="286.1" x2="363.4" y2="286.1"/><line x1="200.3" y1="269.6" x2="363.4" y2="269.6"/><line x1="200.3" y1="253.1" x2="363.4" y2="253.1"/><line x1="200.3" y1="236.6" x2="363.4" y2="236.6"/><line x1="200.3" y1="236.6" x2="200.3" y2="319.1"/><line x1="227.48" y1="236.6" x2="227.48" y2="319.1"/><line x1="254.67" y1="236.6" x2="254.67" y2="319.1"/><line x1="281.85" y1="236.6" x2="281.85" y2="319.1"/><line x1="309.03" y1="236.6" x2="309.03" y2="319.1"/><line x1="336.22" y1="236.6" x2="336.22" y2="319.1"/><line x1="363.4" y1="236.6" x2="363.4" y2="319.1"/></g>
<g font-size="4.8" fill="#505050" stroke="#505050" stroke-width="0.18"><text x="368.3" y="320.9">0</text><text x="368.3" y="304.4">50</text><text x="368.3" y="287.9">100</text><text x="368.3" y="271.4">150</text><text x="368.3" y="254.9">200</text><text x="368.3" y="238.4">250</text><text x="200.4" y="328.15" text-anchor="middle">90</text><text x="227.58" y="328.15" text-anchor="middle">75</text><text x="254.77" y="328.15" text-anchor="middle">60</text><text x="281.95" y="328.15" text-anchor="middle">45</text><text x="309.13" y="328.15" text-anchor="middle">30</text><text x="336.32" y="328.15" text-anchor="middle">15</text><text x="363.5" y="328.15" text-anchor="middle">0</text></g>
<path fill="#4873cb" d="M201.06 313.15h2.1v1.9h-2.1zM202.87 312.55h2.1v1.9h-2.1zM204.69 309.55h2.1v1.9h-2.1zM206.5 304.95h2.1v1.9h-2.1zM208.31 304.35h2.1v1.9h-2.1zM210.12 305.85h2.1v1.9h-2.1zM211.94 306.15h2.1v1.9h-2.1zM213.75 308.35h2.1v1.9h-2.1zM215.56 311.35h2.1v1.9h-2.1zM217.37 308.55h2.1v1.9h-2.1zM219.18 312.85h2.1v1.9h-2.1zM221 311.05h2.1v1.9h-2.1zM222.81 313.75h2.1v1.9h-2.1zM224.62 313.75h2.1v1.9h-2.1zM226.43 313.75h2.1v1.9h-2.1zM228.25 315.55h2.1v1.9h-2.1zM230.06 315.45h2.1v1.9h-2.1zM231.87 315.85h2.1v1.9h-2.1zM233.68 316.35h2.1v1.9h-2.1zM235.49 316.35h2.1v1.9h-2.1zM237.31 316.75h2.1v1.9h-2.1zM239.12 317.05h2.1v1.9h-2.1zM240.93 316.15h2.1v1.9h-2.1zM242.74 316.75h2.1v1.9h-2.1zM244.56 317.05h2.1v1.9h-2.1zM246.37 315.85h2.1v1.9h-2.1zM248.18 317.95h2.1v1.9h-2.1zM249.99 316.75h2.1v1.9h-2.1zM251.8 314.95h2.1v1.9h-2.1zM253.62 315.85h2.1v1.9h-2.1zM255.43 315.85h2.1v1.9h-2.1zM257.24 316.99h2.1v1.9h-2.1zM259.05 316.75h2.1v1.9h-2.1zM260.87 316.96h2.1v1.9h-2.1zM262.68 316.5h2.1v1.9h-2.1zM264.49 316.53h2.1v1.9h-2.1zM266.3 316.7h2.1v1.9h-2.1zM268.11 317.21h2.1v1.9h-2.1zM269.93 316.98h2.1v1.9h-2.1zM271.74 316.9h2.1v1.9h-2.1zM273.55 317.2h2.1v1.9h-2.1zM275.36 317.09h2.1v1.9h-2.1zM277.18 316.97h2.1v1.9h-2.1zM278.99 317.49h2.1v1.9h-2.1zM280.8 317.43h2.1v1.9h-2.1zM282.61 317h2.1v1.9h-2.1zM284.42 317.36h2.1v1.9h-2.1zM286.24 317.34h2.1v1.9h-2.1zM288.05 317.72h2.1v1.9h-2.1zM289.86 317.6h2.1v1.9h-2.1zM291.67 317.19h2.1v1.9h-2.1zM293.49 317.91h2.1v1.9h-2.1zM295.3 317.08h2.1v1.9h-2.1zM297.11 317.41h2.1v1.9h-2.1zM298.92 317.78h2.1v1.9h-2.1zM300.73 317.2h2.1v1.9h-2.1zM304.36 318.25h2.1v1.9h-2.1zM307.98 318.25h2.1v1.9h-2.1zM309.8 318.25h2.1v1.9h-2.1zM313.42 318.25h2.1v1.9h-2.1zM315.23 318.25h2.1v1.9h-2.1zM317.04 318.25h2.1v1.9h-2.1zM320.67 318.25h2.1v1.9h-2.1zM327.92 318.25h2.1v1.9h-2.1zM331.54 318.25h2.1v1.9h-2.1z"/>
<g stroke="#ededed" stroke-width="0.9"><line x1="383.9" y1="319.1" x2="546.5" y2="319.1"/><line x1="383.9" y1="302.6" x2="546.5" y2="302.6"/><line x1="383.9" y1="286.1" x2="546.5" y2="286.1"/><line x1="383.9" y1="269.6" x2="546.5" y2="269.6"/><line x1="383.9" y1="253.1" x2="546.5" y2="253.1"/><line x1="383.9" y1="236.6" x2="546.5" y2="236.6"/><line x1="383.9" y1="236.6" x2="383.9" y2="319.1"/><line x1="411" y1="236.6" x2="411" y2="319.1"/><line x1="438.1" y1="236.6" x2="438.1" y2="319.1"/><line x1="465.2" y1="236.6" x2="465.2" y2="319.1"/><line x1="492.3" y1="236.6" x2="492.3" y2="319.1"/><line x1="519.4" y1="236.6" x2="519.4" y2="319.1"/><line x1="546.5" y1="236.6" x2="546.5" y2="319.1"/></g>
<g font-size="4.8" fill="#505050" stroke="#505050" stroke-width="0.18"><text x="551.4" y="320.9">0</text><text x="551.4" y="304.4">50</text><text x="551.4" y="287.9">100</text><text x="551.4" y="271.4">150</text><text x="551.4" y="254.9">200</text><text x="551.4" y="238.4">250</text><text x="384" y="328.15" text-anchor="middle">90</text><text x="411.1" y="328.15" text-anchor="middle">75</text><text x="438.2" y="328.15" text-anchor="middle">60</text><text x="465.3" y="328.15" text-anchor="middle">45</text><text x="492.4" y="328.15" text-anchor="middle">30</text><text x="519.5" y="328.15" text-anchor="middle">15</text><text x="546.6" y="328.15" text-anchor="middle">0</text></g>
<path fill="#4873cb" d="M384.66 316.55h2.1v1.9h-2.1zM386.46 314.05h2.1v1.9h-2.1zM388.27 314.95h2.1v1.9h-2.1zM390.08 311.05h2.1v1.9h-2.1zM391.88 308.15h2.1v1.9h-2.1zM393.69 306.75h2.1v1.9h-2.1zM395.5 305.85h2.1v1.9h-2.1zM397.3 307.65h2.1v1.9h-2.1zM399.11 306.75h2.1v1.9h-2.1zM400.92 308.35h2.1v1.9h-2.1zM402.72 308.85h2.1v1.9h-2.1zM404.53 307.95h2.1v1.9h-2.1zM406.34 310.65h2.1v1.9h-2.1zM408.14 309.75h2.1v1.9h-2.1zM409.95 310.65h2.1v1.9h-2.1zM411.76 310.45h2.1v1.9h-2.1zM413.56 314.95h2.1v1.9h-2.1zM415.37 315.45h2.1v1.9h-2.1zM417.18 316.15h2.1v1.9h-2.1zM418.98 316.15h2.1v1.9h-2.1zM420.79 316.15h2.1v1.9h-2.1zM422.6 316.75h2.1v1.9h-2.1zM424.4 316.55h2.1v1.9h-2.1zM426.21 317.05h2.1v1.9h-2.1zM428.02 317.05h2.1v1.9h-2.1zM429.82 317.05h2.1v1.9h-2.1zM431.63 316.55h2.1v1.9h-2.1zM433.44 316.15h2.1v1.9h-2.1zM435.24 316.35h2.1v1.9h-2.1zM437.05 314.95h2.1v1.9h-2.1zM438.86 314.65h2.1v1.9h-2.1zM440.66 315.55h2.1v1.9h-2.1zM442.47 315.24h2.1v1.9h-2.1zM444.28 315.09h2.1v1.9h-2.1zM446.08 317.05h2.1v1.9h-2.1zM447.89 317.33h2.1v1.9h-2.1zM449.7 317.27h2.1v1.9h-2.1zM451.5 317.8h2.1v1.9h-2.1zM453.31 317.29h2.1v1.9h-2.1zM455.12 317.92h2.1v1.9h-2.1zM456.92 317.96h2.1v1.9h-2.1zM460.54 317.71h2.1v1.9h-2.1zM462.34 317.71h2.1v1.9h-2.1zM464.15 318.12h2.1v1.9h-2.1zM465.96 318.31h2.1v1.9h-2.1zM467.76 318.03h2.1v1.9h-2.1zM469.57 318.28h2.1v1.9h-2.1zM471.38 317.9h2.1v1.9h-2.1zM473.18 318.35h2.1v1.9h-2.1zM474.99 318.35h2.1v1.9h-2.1zM478.6 318.05h2.1v1.9h-2.1zM482.22 318.25h2.1v1.9h-2.1zM484.02 318.25h2.1v1.9h-2.1zM485.83 318.25h2.1v1.9h-2.1zM489.44 318.35h2.1v1.9h-2.1zM493.06 318.35h2.1v1.9h-2.1zM511.12 318.35h2.1v1.9h-2.1zM512.93 318.35h2.1v1.9h-2.1zM514.74 318.35h2.1v1.9h-2.1z"/>
<g stroke="#ededed" stroke-width="0.9"><line x1="567.6" y1="319.1" x2="729.2" y2="319.1"/><line x1="567.6" y1="302.6" x2="729.2" y2="302.6"/><line x1="567.6" y1="286.1" x2="729.2" y2="286.1"/><line x1="567.6" y1="269.6" x2="729.2" y2="269.6"/><line x1="567.6" y1="253.1" x2="729.2" y2="253.1"/><line x1="567.6" y1="236.6" x2="729.2" y2="236.6"/><line x1="567.6" y1="236.6" x2="567.6" y2="319.1"/><line x1="594.53" y1="236.6" x2="594.53" y2="319.1"/><line x1="621.47" y1="236.6" x2="621.47" y2="319.1"/><line x1="648.4" y1="236.6" x2="648.4" y2="319.1"/><line x1="675.33" y1="236.6" x2="675.33" y2="319.1"/><line x1="702.27" y1="236.6" x2="702.27" y2="319.1"/><line x1="729.2" y1="236.6" x2="729.2" y2="319.1"/></g>
<g font-size="4.8" fill="#505050" stroke="#505050" stroke-width="0.18"><text x="734.1" y="320.9">0</text><text x="734.1" y="304.4">50</text><text x="734.1" y="287.9">100</text><text x="734.1" y="271.4">150</text><text x="734.1" y="254.9">200</text><text x="734.1" y="238.4">250</text><text x="567.7" y="328.15" text-anchor="middle">90</text><text x="594.63" y="328.15" text-anchor="middle">75</text><text x="621.57" y="328.15" text-anchor="middle">60</text><text x="648.5" y="328.15" text-anchor="middle">45</text><text x="675.43" y="328.15" text-anchor="middle">30</text><text x="702.37" y="328.15" text-anchor="middle">15</text><text x="729.3" y="328.15" text-anchor="middle">0</text></g>
<path fill="#4873cb" d="M568.35 309.35h2.1v1.9h-2.1zM570.14 302.05h2.1v1.9h-2.1zM571.94 299.65h2.1v1.9h-2.1zM573.73 295.65h2.1v1.9h-2.1zM575.53 297.95h2.1v1.9h-2.1zM577.32 294.85h2.1v1.9h-2.1zM579.12 297.25h2.1v1.9h-2.1zM580.91 302.25h2.1v1.9h-2.1zM582.71 304.95h2.1v1.9h-2.1zM584.51 306.45h2.1v1.9h-2.1zM586.3 307.05h2.1v1.9h-2.1zM588.1 308.55h2.1v1.9h-2.1zM589.89 310.45h2.1v1.9h-2.1zM591.69 310.95h2.1v1.9h-2.1zM593.48 308.85h2.1v1.9h-2.1zM595.28 309.95h2.1v1.9h-2.1zM597.07 313.85h2.1v1.9h-2.1zM598.87 311.25h2.1v1.9h-2.1zM600.67 313.05h2.1v1.9h-2.1zM602.46 316.95h2.1v1.9h-2.1zM604.26 313.85h2.1v1.9h-2.1zM606.05 315.55h2.1v1.9h-2.1zM607.85 313.85h2.1v1.9h-2.1zM609.64 314.85h2.1v1.9h-2.1zM611.44 315.95h2.1v1.9h-2.1zM613.23 314.85h2.1v1.9h-2.1zM615.03 315.55h2.1v1.9h-2.1zM616.83 314.85h2.1v1.9h-2.1zM618.62 315.55h2.1v1.9h-2.1zM620.42 315.75h2.1v1.9h-2.1zM622.21 316.55h2.1v1.9h-2.1zM624.01 315.05h2.1v1.9h-2.1zM625.8 315.65h2.1v1.9h-2.1zM627.6 314.75h2.1v1.9h-2.1zM629.39 315.85h2.1v1.9h-2.1zM631.19 314.95h2.1v1.9h-2.1zM632.99 316.25h2.1v1.9h-2.1zM634.78 315.85h2.1v1.9h-2.1zM636.58 315.25h2.1v1.9h-2.1zM638.37 316.45h2.1v1.9h-2.1zM640.17 317.45h2.1v1.9h-2.1zM641.96 317.44h2.1v1.9h-2.1zM643.76 317.84h2.1v1.9h-2.1zM645.55 317.71h2.1v1.9h-2.1zM647.35 317.22h2.1v1.9h-2.1zM649.15 317.37h2.1v1.9h-2.1zM650.94 317.7h2.1v1.9h-2.1zM652.74 317.1h2.1v1.9h-2.1zM654.53 317.59h2.1v1.9h-2.1zM656.33 317.34h2.1v1.9h-2.1zM658.12 317.34h2.1v1.9h-2.1zM659.92 317.33h2.1v1.9h-2.1zM661.71 318.08h2.1v1.9h-2.1zM663.51 317.49h2.1v1.9h-2.1zM665.31 317.66h2.1v1.9h-2.1zM667.1 317.85h2.1v1.9h-2.1zM668.9 318.37h2.1v1.9h-2.1zM670.69 317.63h2.1v1.9h-2.1zM672.49 318.13h2.1v1.9h-2.1zM674.28 318.16h2.1v1.9h-2.1zM676.08 318.27h2.1v1.9h-2.1zM677.87 318.25h2.1v1.9h-2.1zM679.67 318.26h2.1v1.9h-2.1zM681.47 318.08h2.1v1.9h-2.1zM683.26 318.12h2.1v1.9h-2.1zM685.06 318.11h2.1v1.9h-2.1zM686.85 318.27h2.1v1.9h-2.1zM688.65 318.29h2.1v1.9h-2.1zM690.44 318.05h2.1v1.9h-2.1zM692.24 318.05h2.1v1.9h-2.1zM697.63 318.15h2.1v1.9h-2.1z"/>
<text x="101.5" y="7.65" text-anchor="middle" font-size="7.1" textLength="56.2" lengthAdjust="spacingAndGlyphs" font-weight="bold" fill="#000"><tspan font-style="italic">Bonobo</tspan> Session 1</text>
<text x="284.9" y="7.25" text-anchor="middle" font-size="7.1" textLength="56.2" lengthAdjust="spacingAndGlyphs" font-weight="bold" fill="#000"><tspan font-style="italic">Bonobo</tspan> Session 2</text>
<text x="467.6" y="7.25" text-anchor="middle" font-size="7.1" textLength="56.2" lengthAdjust="spacingAndGlyphs" font-weight="bold" fill="#000"><tspan font-style="italic">Bonobo</tspan> Session 3</text>
<text x="652.8" y="7.45" text-anchor="middle" font-size="7.1" textLength="56.2" lengthAdjust="spacingAndGlyphs" font-weight="bold" fill="#000"><tspan font-style="italic">Bonobo</tspan> Session 4</text>
<text x="98.0" y="337.7" text-anchor="middle" font-size="7.9" textLength="57.8" lengthAdjust="spacingAndGlyphs" fill="#4a4a4a" stroke="#4a4a4a" stroke-width="0.28">Second in the Day</text>
<text x="281.9" y="337.7" text-anchor="middle" font-size="7.9" textLength="57.8" lengthAdjust="spacingAndGlyphs" fill="#4a4a4a" stroke="#4a4a4a" stroke-width="0.28">Second in the Day</text>
<text x="465.1" y="337.7" text-anchor="middle" font-size="7.9" textLength="57.8" lengthAdjust="spacingAndGlyphs" fill="#4a4a4a" stroke="#4a4a4a" stroke-width="0.28">Second in the Day</text>
<text x="649.2" y="337.7" text-anchor="middle" font-size="7.9" textLength="57.8" lengthAdjust="spacingAndGlyphs" fill="#4a4a4a" stroke="#4a4a4a" stroke-width="0.28">Second in the Day</text>
<text transform="translate(7.1 57.85) rotate(-90)" text-anchor="middle" font-size="6.8" textLength="73.4" lengthAdjust="spacingAndGlyphs" font-weight="bold" fill="#000" stroke="#000" stroke-width="0.15">Total Grooming Events</text>
<text transform="translate(7.4 167.65) rotate(-90)" text-anchor="middle" font-size="6.8" textLength="65.2" lengthAdjust="spacingAndGlyphs" font-weight="bold" fill="#000" stroke="#000" stroke-width="0.15">Total Grass Foraging</text>
<text transform="translate(8.5 278.75) rotate(-90)" text-anchor="middle" font-size="6.8" textLength="87.8" lengthAdjust="spacingAndGlyphs" font-weight="bold" fill="#000" stroke="#000" stroke-width="0.15">Total Fruit Foraging  Events</text>
</svg>
</body></html>
